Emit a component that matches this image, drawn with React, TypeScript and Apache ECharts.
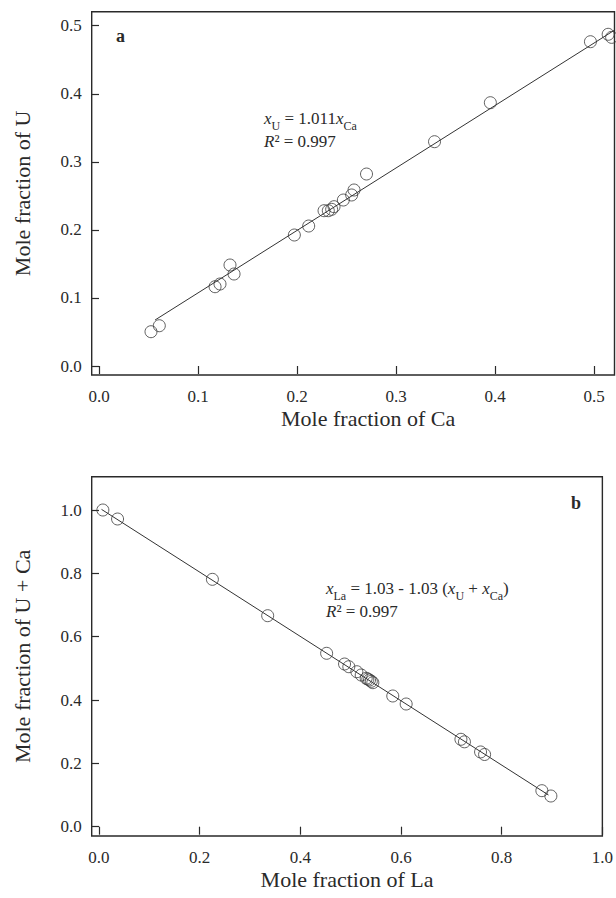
import React, { useEffect, useRef } from "react";
import * as echarts from "echarts";

// Panel a: mole fraction of Ca (x) vs mole fraction of U (y)
const caX = [0.0525, 0.0609, 0.1172, 0.1222, 0.1323, 0.1364, 0.1973, 0.2118, 0.2273, 0.2316, 0.235, 0.2374, 0.2468, 0.2552, 0.2576, 0.2702, 0.3389, 0.3953, 0.4964, 0.5143, 0.5178];
const uY = [0.0504, 0.0592, 0.1165, 0.1205, 0.1484, 0.1352, 0.1925, 0.2057, 0.2282, 0.2282, 0.2302, 0.2341, 0.2439, 0.2513, 0.2586, 0.2821, 0.3296, 0.3869, 0.4765, 0.4874, 0.4829];
const fitAX = [0.0566, 0.5207];
const fitAY = [0.0676, 0.4935];

// Panel b: mole fraction of La (x) vs mole fraction of U + Ca (y)
const laX = [0.0077, 0.0369, 0.2253, 0.3351, 0.4522, 0.4878, 0.4963, 0.5122, 0.5209, 0.5308, 0.534, 0.5374, 0.541, 0.544, 0.5836, 0.6102, 0.719, 0.726, 0.758, 0.766, 0.8798, 0.8977];
const uCaY = [1.0, 0.9716, 0.7811, 0.6663, 0.5475, 0.5137, 0.5052, 0.4894, 0.479, 0.4686, 0.466, 0.4632, 0.459, 0.4547, 0.4127, 0.3874, 0.276, 0.268, 0.236, 0.228, 0.1137, 0.0969];
const fitBX = [0.005, 0.893];
const fitBY = [1.002, 0.1];

// Tick values
const ticksAX = [0, 0.1, 0.2, 0.3, 0.4, 0.5];
const ticksAY = [0, 0.1, 0.2, 0.3, 0.4, 0.5];
const ticksBX = [0, 0.2, 0.4, 0.6, 0.8, 1.0];
const ticksBY = [0, 0.2, 0.4, 0.6, 0.8, 1.0];

const FONT = '"Liberation Serif", "DejaVu Serif", serif';
const INK = "#2a2a2a";

function zip(xs: number[], ys: number[]) {
  return xs.map((x, i) => [x, ys[i]]);
}

function valueAxis(
  gridIndex: number,
  min: number,
  max: number,
  ticks: number[],
  name: string,
  isY: boolean,
  namePadding: number[] = [0, 0, 0, 0]
) {
  return {
    type: "value",
    gridIndex,
    min,
    max,
    name,
    nameLocation: "middle",
    nameGap: isY ? 58 : 32,
    nameTextStyle: { fontFamily: FONT, fontSize: 22, color: INK, padding: namePadding },
    splitLine: { show: false },
    axisLine: { show: false },
    axisTick: {
      show: true,
      inside: false,
      length: 8,
      customValues: ticks,
      lineStyle: { color: INK, width: 1.2 },
    },
    axisLabel: {
      show: true,
      customValues: ticks,
      margin: isY ? 10 : 13,
      fontFamily: FONT,
      fontSize: 17,
      color: INK,
      formatter: (v: number) => v.toFixed(1),
    },
  };
}

const rich = {
  n: { fontFamily: FONT, fontSize: 17, lineHeight: 22, verticalAlign: "top", color: INK },
  i: { fontFamily: FONT, fontSize: 17, fontStyle: "italic", lineHeight: 22, verticalAlign: "top", color: INK },
  sub: { fontFamily: FONT, fontSize: 12, lineHeight: 9, verticalAlign: "bottom", color: INK },
};

export default function App() {
  const ref = useRef<HTMLDivElement>(null);
  useEffect(() => {
    if (!ref.current) return;
    const chart = echarts.init(ref.current, null, { renderer: "svg" });
    const scatterStyle = {
      color: "rgba(0,0,0,0)",
      borderColor: "#3a3a3a",
      borderWidth: 1,
    };
    chart.setOption({
      animation: false,
      backgroundColor: "#ffffff",
      grid: [
        { left: 91.7, top: 11.7, width: 522.8, height: 363.3, show: true, borderColor: INK, borderWidth: 1.4, backgroundColor: "transparent" },
        { left: 91.7, top: 476.7, width: 511.6, height: 359.3, show: true, borderColor: INK, borderWidth: 1.4, backgroundColor: "transparent" },
      ],
      xAxis: [
        valueAxis(0, -0.0074, 0.5207, ticksAX, "Mole fraction of Ca", false, [0, 0, 0, 30]),
        valueAxis(1, -0.0145, 1.0, ticksBX, "Mole fraction of La", false),
      ],
      yAxis: [
        valueAxis(0, -0.0132, 0.5206, ticksAY, "Mole fraction of U", true),
        valueAxis(1, -0.0294, 1.1052, ticksBY, "Mole fraction of U + Ca", true),
      ],
      series: [
        {
          type: "line",
          xAxisIndex: 0,
          yAxisIndex: 0,
          data: zip(fitAX, fitAY),
          symbol: "none",
          lineStyle: { color: "#333", width: 1 },
          silent: true,
        },
        {
          type: "scatter",
          xAxisIndex: 0,
          yAxisIndex: 0,
          data: zip(caX, uY),
          symbol: "circle",
          symbolSize: 12,
          itemStyle: scatterStyle,
        },
        {
          type: "line",
          xAxisIndex: 1,
          yAxisIndex: 1,
          data: zip(fitBX, fitBY),
          symbol: "none",
          lineStyle: { color: "#333", width: 1 },
          silent: true,
        },
        {
          type: "scatter",
          xAxisIndex: 1,
          yAxisIndex: 1,
          data: zip(laX, uCaY),
          symbol: "circle",
          symbolSize: 12,
          itemStyle: scatterStyle,
        },
      ],
      graphic: [
        {
          type: "text",
          x: 116,
          y: 36,
          style: { text: "a", fontFamily: FONT, fontSize: 18, fontWeight: "bold", fill: INK, verticalAlign: "middle" },
        },
        {
          type: "text",
          x: 264,
          y: 110,
          style: { text: "{i|x}{sub|U}{n| = 1.011}{i|x}{sub|Ca}", rich, fill: INK },
        },
        {
          type: "text",
          x: 264,
          y: 133,
          style: { text: "{i|R}{n|² = 0.997}", rich, fill: INK },
        },
        {
          type: "text",
          x: 571,
          y: 503,
          style: { text: "b", fontFamily: FONT, fontSize: 18, fontWeight: "bold", fill: INK, verticalAlign: "middle" },
        },
        {
          type: "text",
          x: 326,
          y: 580,
          style: { text: "{i|x}{sub|La}{n| = 1.03 - 1.03 (}{i|x}{sub|U}{n| + }{i|x}{sub|Ca}{n|)}", rich, fill: INK },
        },
        {
          type: "text",
          x: 326,
          y: 603,
          style: { text: "{i|R}{n|² = 0.997}", rich, fill: INK },
        },
      ],
    });
    return () => chart.dispose();
  }, []);
  return (
    <div
      ref={ref}
      style={{ position: "fixed", left: 0, top: 0, width: 616, height: 898, background: "#fff" }}
    />
  );
}
